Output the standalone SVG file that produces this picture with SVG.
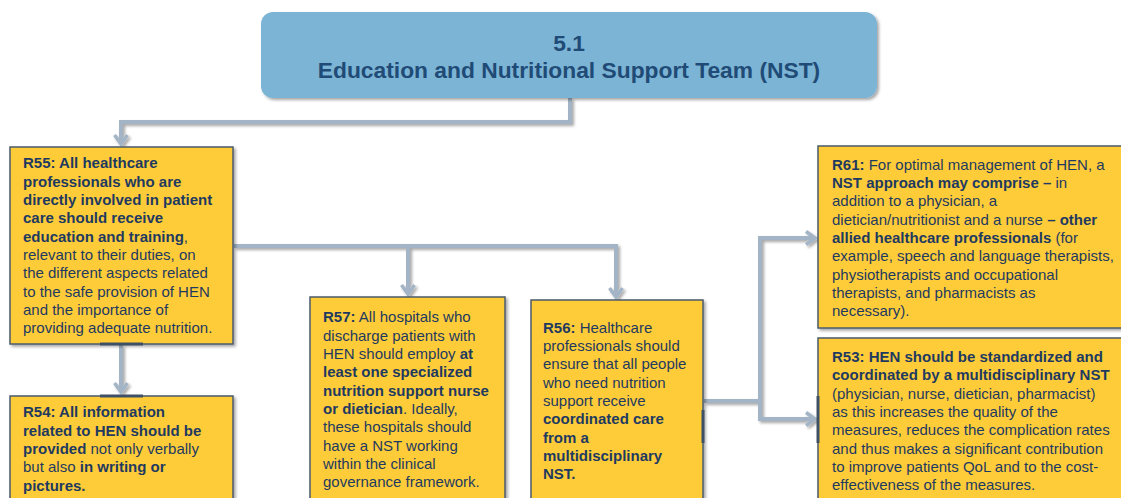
<svg xmlns="http://www.w3.org/2000/svg" width="1121" height="498" viewBox="0 0 1121 498">
<style>
.t{font-family:"Liberation Sans",Arial,sans-serif;font-size:15px;fill:#1F3A60;}
.b{font-weight:bold;}
.box{fill:#FECC38;stroke:#4B5B6B;stroke-width:1.5;}
.conn{fill:none;stroke:#A3B4C6;stroke-width:4;}
.tick{stroke:#3E5066;stroke-width:3;}
.h{font-family:"Liberation Sans",Arial,sans-serif;font-size:22.8px;font-weight:bold;fill:#1F4B76;text-anchor:middle;}
</style>
<defs>
<filter id="sh" x="-5%" y="-5%" width="115%" height="120%">
<feDropShadow dx="2" dy="2" stdDeviation="1.5" flood-color="#000" flood-opacity="0.35"/>
</filter>
<marker id="arr" viewBox="0 0 14 16" refX="11" refY="8" markerWidth="14" markerHeight="16" orient="auto" markerUnits="userSpaceOnUse">
<path d="M2,1.5 L11,8 L2,14.5" fill="none" stroke="#A3B4C6" stroke-width="3.5"/>
</marker>
</defs>
<rect width="1121" height="498" fill="#FFFFFF"/>

<g id="connectors" filter="url(#sh)">
<path class="conn" d="M570,98 V122 H121 V144" marker-end="url(#arr)"/>
<path class="conn" d="M121,345 V392" marker-end="url(#arr)"/>
<path class="conn" d="M234,246 H616 V297" marker-end="url(#arr)"/>
<path class="conn" d="M408,246 V294" marker-end="url(#arr)"/>
<path class="conn" d="M704,401 H760 V238 H815" marker-end="url(#arr)"/>
<path class="conn" d="M760,401 V419 H815" marker-end="url(#arr)"/>
</g>

<g id="header">
<rect x="261" y="12" width="616" height="86" rx="12" fill="#7CB4D5" filter="url(#sh)"/>
<text class="h" x="569" y="51">5.1</text>
<text class="h" x="569" y="78">Education and Nutritional Support Team (NST)</text>
</g>

<g id="R55">
<rect class="box" x="10" y="147" width="223" height="197" filter="url(#sh)"/>
<text class="t">
<tspan x="23" y="168" class="b">R55: All healthcare</tspan>
<tspan x="23" y="187" class="b">professionals who are</tspan>
<tspan x="23" y="205" class="b">directly involved in patient</tspan>
<tspan x="23" y="223" class="b">care should receive</tspan>
<tspan x="23" y="242"><tspan class="b">education and training</tspan>,</tspan>
<tspan x="23" y="260">relevant to their duties, on</tspan>
<tspan x="23" y="278">the different aspects related</tspan>
<tspan x="23" y="297">to the safe provision of HEN</tspan>
<tspan x="23" y="315">and the importance of</tspan>
<tspan x="23" y="333">providing adequate nutrition.</tspan>
</text>
<line class="tick" x1="100" y1="344" x2="143" y2="344"/>
</g>

<g id="R54">
<rect class="box" x="10" y="396" width="223" height="110" filter="url(#sh)"/>
<line class="tick" x1="100" y1="396" x2="143" y2="396"/>
<text class="t">
<tspan x="23" y="417" class="b">R54: All information</tspan>
<tspan x="23" y="436" class="b">related to HEN should be</tspan>
<tspan x="23" y="454"><tspan class="b">provided</tspan> not only verbally</tspan>
<tspan x="23" y="472">but also <tspan class="b">in writing or</tspan></tspan>
<tspan x="23" y="491" class="b">pictures.</tspan>
</text>
</g>

<g id="R57">
<rect class="box" x="310" y="297" width="195" height="210" filter="url(#sh)"/>
<text class="t">
<tspan x="323" y="322"><tspan class="b">R57:</tspan> All hospitals who</tspan>
<tspan x="323" y="341">discharge patients with</tspan>
<tspan x="323" y="359">HEN should employ <tspan class="b">at</tspan></tspan>
<tspan x="323" y="377" class="b">least one specialized</tspan>
<tspan x="323" y="396" class="b">nutrition support nurse</tspan>
<tspan x="323" y="414"><tspan class="b">or dietician</tspan>. Ideally,</tspan>
<tspan x="323" y="432">these hospitals should</tspan>
<tspan x="323" y="451">have a NST working</tspan>
<tspan x="323" y="469">within the clinical</tspan>
<tspan x="323" y="487">governance framework.</tspan>
</text>
</g>

<g id="R56">
<rect class="box" x="531" y="300" width="172" height="207" filter="url(#sh)"/>
<line class="tick" x1="703" y1="410" x2="703" y2="443"/>
<text class="t">
<tspan x="543" y="333"><tspan class="b">R56:</tspan> Healthcare</tspan>
<tspan x="543" y="351">professionals should</tspan>
<tspan x="543" y="369">ensure that all people</tspan>
<tspan x="543" y="388">who need nutrition</tspan>
<tspan x="543" y="406">support receive</tspan>
<tspan x="543" y="424" class="b">coordinated care</tspan>
<tspan x="543" y="443" class="b">from a</tspan>
<tspan x="543" y="461" class="b">multidisciplinary</tspan>
<tspan x="543" y="479" class="b">NST.</tspan>
</text>
</g>

<g id="R61">
<rect class="box" x="818" y="146" width="315" height="182" filter="url(#sh)"/>
<text class="t">
<tspan x="832" y="170"><tspan class="b">R61:</tspan> For optimal management of HEN, a</tspan>
<tspan x="832" y="188"><tspan class="b">NST approach may comprise –</tspan> in</tspan>
<tspan x="832" y="206">addition to a physician, a</tspan>
<tspan x="832" y="225">dietician/nutritionist and a nurse <tspan class="b">– other</tspan></tspan>
<tspan x="832" y="243"><tspan class="b">allied healthcare professionals</tspan> (for</tspan>
<tspan x="832" y="261">example, speech and language therapists,</tspan>
<tspan x="832" y="280">physiotherapists and occupational</tspan>
<tspan x="832" y="298">therapists, and pharmacists as</tspan>
<tspan x="832" y="316">necessary).</tspan>
</text>
</g>

<g id="R53">
<rect class="box" x="818" y="338" width="315" height="170" filter="url(#sh)"/>
<line class="tick" x1="818" y1="396" x2="818" y2="443"/>
<text class="t">
<tspan x="832" y="362" class="b">R53: HEN should be standardized and</tspan>
<tspan x="832" y="380" class="b">coordinated by a multidisciplinary NST</tspan>
<tspan x="832" y="399">(physician, nurse, dietician, pharmacist)</tspan>
<tspan x="832" y="417">as this increases the quality of the</tspan>
<tspan x="832" y="435">measures, reduces the complication rates</tspan>
<tspan x="832" y="454">and thus makes a significant contribution</tspan>
<tspan x="832" y="472">to improve patients QoL and to the cost-</tspan>
<tspan x="832" y="490">effectiveness of the measures.</tspan>
</text>
</g>
</svg>
